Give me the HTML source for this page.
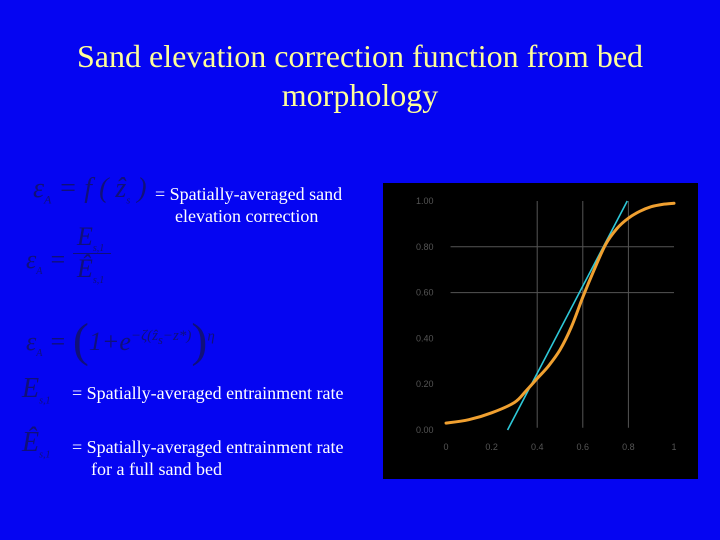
<!DOCTYPE html>
<html><head><meta charset="utf-8"><style>
html,body{margin:0;padding:0}
body{width:720px;height:540px;background:#0505f2;position:relative;overflow:hidden;font-family:"Liberation Serif",serif}
.t{position:absolute;white-space:nowrap}
.title{color:#ffff99;font-size:32px;left:0;width:720px;text-align:center}
.w{color:#fff;font-size:18px}
.m{color:#10107a;font-family:"Liberation Serif",serif;font-style:italic}
</style></head><body>
<div class="t title" style="top:38px">Sand elevation correction function from bed</div>
<div class="t title" style="top:77px">morphology</div>

<div class="t m" style="left:33px;top:173px;font-size:28px">ε<sub style="font-size:12px">A</sub> = <i>f</i> ( <span>ẑ</span><sub style="font-size:10px">s</sub> )</div>
<div class="t w" style="left:155px;top:184px">= Spatially-averaged sand</div>
<div class="t w" style="left:175px;top:206px">elevation correction</div>

<div class="t m" style="left:26px;top:245px;font-size:26px">ε<sub style="font-size:10px">A</sub> =</div>
<div class="t m" style="left:77px;top:222px;font-size:26px">E<sub style="font-size:10px">s,1</sub></div>
<div style="position:absolute;left:73px;top:253px;width:38px;height:1px;background:#10107a"></div>
<div class="t m" style="left:77px;top:254px;font-size:26px">Ê<sub style="font-size:10px">s,1</sub></div>

<div class="t m" style="left:26px;top:313px;font-size:26px">ε<sub style="font-size:10px">A</sub> = <span style="font-size:48px;font-style:normal;vertical-align:-6px">(</span>1+e<sup style="font-size:15px">−ζ(ẑ<sub>s</sub>−z*)</sup><span style="font-size:48px;font-style:normal;vertical-align:-6px">)</span><sup style="font-size:15px">η</sup></div>

<div class="t m" style="left:22px;top:373px;font-size:28px">E<sub style="font-size:10px">s,1</sub></div>
<div class="t w" style="left:72px;top:383px">= Spatially-averaged entrainment rate</div>
<div class="t m" style="left:22px;top:427px;font-size:28px">Ê<sub style="font-size:10px">s,1</sub></div>
<div class="t w" style="left:72px;top:437px">= Spatially-averaged entrainment rate</div>
<div class="t w" style="left:91px;top:459px">for a full sand bed</div>

<svg id="chart" style="position:absolute;left:383px;top:183px" width="315" height="296" xmlns="http://www.w3.org/2000/svg">
<rect width="315" height="296" fill="#000"/>
</svg>
<script>
const xTicks=[0,0.2,0.4,0.6,0.8,1];
const xTickLabels=["0","0.2","0.4","0.6","0.8","1"];
const yTicks=[0,0.2,0.4,0.6,0.8,1.0];
const yTickLabels=["0.00","0.20","0.40","0.60","0.80","1.00"];
const curveX=[0,0.1,0.2,0.3,0.35,0.4,0.45,0.5,0.55,0.6,0.65,0.7,0.75,0.8,0.85,0.9,0.95,1];
const curveY=[0.03,0.045,0.075,0.12,0.17,0.225,0.28,0.35,0.45,0.58,0.7,0.81,0.88,0.925,0.955,0.975,0.985,0.99];
const tangentX=[0.27,0.795];
const tangentY=[0,1.0];
const ox=383,oy=183;
const sx=v=>446+v*228-ox;
const sy=v=>430-v*229-oy;
const svg=document.getElementById('chart');
const NS='http://www.w3.org/2000/svg';
function mk(t,a){const e=document.createElementNS(NS,t);for(const k in a)e.setAttribute(k,a[k]);svg.appendChild(e);return e;}
[0.6,0.8].forEach(v=>{
  const l=mk('line',{x1:sx(0.02),x2:sx(1),y1:sy(v),y2:sy(v),stroke:'#555','stroke-width':1});
  
  
});
[0.4,0.6,0.8].forEach(v=>{
  const l=mk('line',{x1:sx(v),x2:sx(v),y1:sy(1),y2:sy(0.01),stroke:'#555','stroke-width':1});
  
  
});
yTicks.forEach((v,i)=>{
  const t=mk('text',{x:sx(0)-30,y:sy(v)+3,fill:'#555','font-size':9,'font-family':'Liberation Sans, sans-serif'});
  t.textContent=yTickLabels[i];
  
  
});
xTicks.forEach((v,i)=>{
  const t=mk('text',{x:sx(v),y:sy(0)+20,fill:'#555','font-size':9,'text-anchor':'middle','font-family':'Liberation Sans, sans-serif'});
  t.textContent=xTickLabels[i];
  
  
});
const tl=mk('line',{x1:sx(tangentX[0]),y1:sy(tangentY[0]),x2:sx(tangentX[1]),y2:sy(tangentY[1]),stroke:'#2ec8d8','stroke-width':1.6});


const pts=curveX.map((x,i)=>[sx(x),sy(curveY[i])]);
let d='M'+pts[0][0].toFixed(1)+','+pts[0][1].toFixed(1);
for(let i=0;i<pts.length-1;i++){
  const p0=pts[Math.max(0,i-1)],p1=pts[i],p2=pts[i+1],p3=pts[Math.min(pts.length-1,i+2)];
  const c1=[p1[0]+(p2[0]-p0[0])/6,p1[1]+(p2[1]-p0[1])/6];
  const c2=[p2[0]-(p3[0]-p1[0])/6,p2[1]-(p3[1]-p1[1])/6];
  d+='C'+c1.map(v=>v.toFixed(1)).join(',')+' '+c2.map(v=>v.toFixed(1)).join(',')+' '+p2.map(v=>v.toFixed(1)).join(',');
}
const p=mk('path',{d:d,fill:'none',stroke:'#f0a030','stroke-width':3,'stroke-linejoin':'round','stroke-linecap':'round'});


</script>
</body></html>
